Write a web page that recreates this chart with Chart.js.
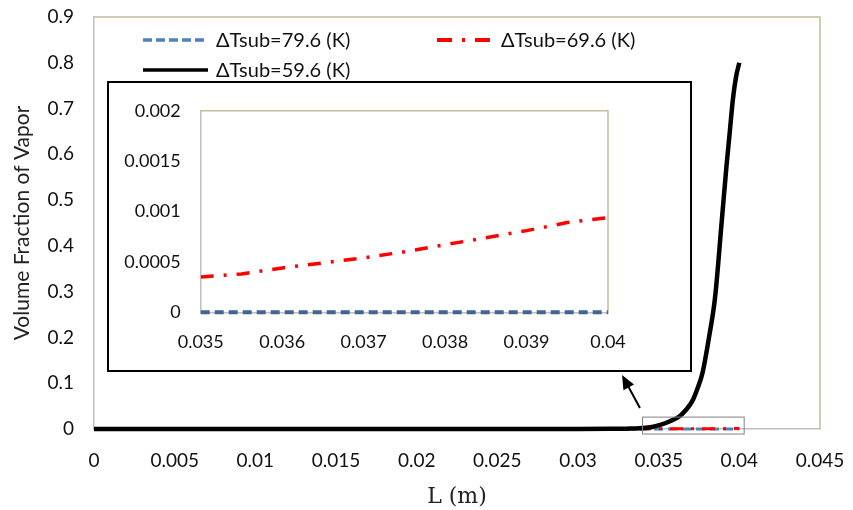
<!DOCTYPE html>
<html>
<head>
<meta charset="utf-8">
<script src="https://cdn.jsdelivr.net/npm/chart.js@4.4.1/dist/chart.umd.min.js"></script>
<style>
  body { margin: 0; background: #fff; }
  #wrap { position: relative; width: 853px; height: 510px; }
  #main { display: block; }
  #inset { position: absolute; left: 107px; top: 81px; width: 585px; height: 291px;
           border: 2px solid #000; box-sizing: border-box; background: #fff; }
  #zoomed { display: block; }
</style>
</head>
<body>
<div id="wrap">
  <canvas id="main" width="853" height="510"></canvas>
  <div id="inset"><canvas id="zoomed" width="581" height="287"></canvas></div>
</div>
<script>
// series names
const seriesNames = ['ΔTsub=79.6 (K)', 'ΔTsub=69.6 (K)', 'ΔTsub=59.6 (K)'];

// full length, dTsub = 59.6 K
const lengthMain = [0, 0.005, 0.01, 0.015, 0.02, 0.025, 0.03, 0.032, 0.033, 0.0338, 0.0345, 0.0351,
  0.0357, 0.0363, 0.0367, 0.0371, 0.0374, 0.0377, 0.0381, 0.0385, 0.0389, 0.0392, 0.0394, 0.0396, 0.0398, 0.04];
const frac59 = [0, 0, 0, 0, 0, 0, 0, 0.0003, 0.0008, 0.0015, 0.004, 0.009,
  0.017, 0.028, 0.042, 0.062, 0.088, 0.12, 0.196, 0.289, 0.45, 0.573, 0.646, 0.72, 0.77, 0.8];

// upstream part of the two lower curves (flat at ~0)
const lengthLow = [0, 0.01, 0.02, 0.03];
const frac69Low = [0, 0, 0.0001, 0.0002];
const frac79Low = [0, 0, 0, 0];

// zoomed part 0.035 - 0.04
const lengthInset = [0.035, 0.0355, 0.036, 0.0365, 0.037, 0.0375, 0.038, 0.0385, 0.039, 0.0395, 0.04];
const frac69 = [0.00035, 0.00038, 0.00044, 0.00049, 0.00054, 0.0006, 0.00067, 0.00074, 0.00081, 0.00089, 0.00094];
const frac79 = [0, 0, 0, 0, 0, 0, 0, 0, 0, 0, 0];

// ticks
const xTicksMain = [0, 0.005, 0.01, 0.015, 0.02, 0.025, 0.03, 0.035, 0.04, 0.045];
const yTicksMain = [0, 0.1, 0.2, 0.3, 0.4, 0.5, 0.6, 0.7, 0.8, 0.9];
const xTicksInset = [0.035, 0.036, 0.037, 0.038, 0.039, 0.04];
const yTicksInset = [0, 0.0005, 0.001, 0.0015, 0.002];

const blue = '#4f81bd', blueDark = '#3f6596', red = '#ff0000', black = '#000000';
const axisGray = '#bfbfbf', frameKhaki = '#c4bd97';

const pts = (xs, ys) => xs.map((x, i) => ({ x: x, y: ys[i] }));
const fmt = v => String(+(+v).toFixed(4));

Chart.defaults.font.family = 'Lato';
Chart.defaults.font.size = 18;
Chart.defaults.color = '#111';

// top and right edges of the plot frame (left/bottom are the gray axes)
const frame = {
  id: 'frame',
  beforeDatasetsDraw(chart) {
    const { ctx, chartArea: a } = chart;
    ctx.save();
    ctx.strokeStyle = frameKhaki;
    ctx.lineWidth = 1.5;
    ctx.beginPath();
    ctx.moveTo(a.left, a.top);
    ctx.lineTo(a.right, a.top);
    ctx.lineTo(a.right, a.bottom);
    ctx.stroke();
    ctx.restore();
  }
};

// fixed axis size, no extra room for overhanging labels
function fixSize(dim, px) {
  return s => {
    s[dim] = px;
    s.paddingTop = 0; s.paddingBottom = 0; s.paddingLeft = 0; s.paddingRight = 0;
  };
}

function scaleOpts(ticks, size) {
  return {
    type: 'linear',
    min: ticks[0],
    max: ticks[ticks.length - 1],
    afterBuildTicks: s => { s.ticks = ticks.map(v => ({ value: v })); },
    grid: { display: false, drawTicks: false },
    border: { display: true, color: axisGray, width: 1.5 },
    ticks: { callback: fmt, padding: 20, color: '#111', font: { size: size } }
  };
}

// legend + arrow + small box on the main chart
const extras = {
  id: 'extras',
  afterDatasetsDraw(chart) {
    const { ctx, scales: { x, y } } = chart;
    ctx.save();
    // box around the zoomed region
    const x0 = x.getPixelForValue(0.034), x1 = x.getPixelForValue(0.0403);
    const y0 = y.getPixelForValue(0.026), y1 = y.getPixelForValue(-0.011);
    ctx.strokeStyle = '#808080';
    ctx.lineWidth = 1;
    ctx.strokeRect(x0, y0, x1 - x0, y1 - y0);

    // arrow pointing at the inset
    const ax = x.getPixelForValue(0.03384), ay = y.getPixelForValue(0.046);
    const bx = x.getPixelForValue(0.03273), by = y.getPixelForValue(0.118);
    const ang = Math.atan2(by - ay, bx - ax);
    ctx.strokeStyle = black;
    ctx.fillStyle = black;
    ctx.lineWidth = 2;
    ctx.beginPath();
    ctx.moveTo(ax, ay);
    ctx.lineTo(bx - 8 * Math.cos(ang), by - 8 * Math.sin(ang));
    ctx.stroke();
    ctx.beginPath();
    ctx.moveTo(bx, by);
    ctx.lineTo(bx - 14 * Math.cos(ang) + 6 * Math.sin(ang), by - 14 * Math.sin(ang) - 6 * Math.cos(ang));
    ctx.lineTo(bx - 14 * Math.cos(ang) - 6 * Math.sin(ang), by - 14 * Math.sin(ang) + 6 * Math.cos(ang));
    ctx.closePath();
    ctx.fill();

    // legend
    const items = [
      { text: seriesNames[0], color: blue, dash: [9, 4], w: 3.5, x: 143, len: 65, y: 40 },
      { text: seriesNames[1], color: red, dash: [15, 10, 3, 10], w: 4, x: 437, len: 56, y: 40 },
      { text: seriesNames[2], color: black, dash: [], w: 3.5, x: 143, len: 65, y: 70 }
    ];
    ctx.font = '20px Lato';
    ctx.textBaseline = 'middle';
    items.forEach(it => {
      ctx.strokeStyle = it.color;
      ctx.lineWidth = it.w;
      ctx.setLineDash(it.dash);
      ctx.beginPath();
      ctx.moveTo(it.x, it.y);
      ctx.lineTo(it.x + it.len, it.y);
      ctx.stroke();
      ctx.setLineDash([]);
      ctx.fillStyle = '#111';
      ctx.fillText(it.text, it.x + it.len + 8, it.y + 1);
    });
    ctx.restore();
  }
};

const mainX = scaleOpts(xTicksMain, 19);
mainX.afterFit = fixSize('height', 81);
mainX.title = { display: true, text: 'L (m)', font: { family: 'DejaVu Serif', size: 22 }, color: '#222', padding: 0 };
const mainY = scaleOpts(yTicksMain, 19);
mainY.afterFit = fixSize('width', 94);
mainY.title = { display: true, text: 'Volume Fraction of Vapor', font: { size: 21 }, color: '#222', padding: { top: 10, bottom: 0 } };

new Chart(document.getElementById('main'), {
  type: 'line',
  data: {
    datasets: [
      { label: seriesNames[2], data: pts(lengthMain, frac59), borderColor: black, borderWidth: 4.5,
        cubicInterpolationMode: 'monotone', order: 1, clip: false },
      { label: seriesNames[1], data: pts(lengthLow.concat(lengthInset), frac69Low.concat(frac69)),
        borderColor: red, borderWidth: 3, borderDash: [13, 8, 3, 8], order: 2, clip: false },
      { label: seriesNames[0], data: pts(lengthLow.concat(lengthInset), frac79Low.concat(frac79)),
        borderColor: blue, borderWidth: 3, borderDash: [9, 5], order: 3, clip: false }
    ]
  },
  options: {
    responsive: false,
    animation: false,
    layout: { autoPadding: false, padding: { top: 17, right: 33, left: 0, bottom: 0 } },
    elements: { point: { radius: 0 } },
    plugins: { legend: { display: false }, tooltip: { enabled: false } },
    scales: { x: mainX, y: mainY }
  },
  plugins: [frame, extras]
});

const insetX = scaleOpts(xTicksInset, 18);
insetX.afterFit = fixSize('height', 57.7);
insetX.ticks.padding = 19;
const insetY = scaleOpts(yTicksInset, 18);
insetY.afterFit = fixSize('width', 91.7);

new Chart(document.getElementById('zoomed'), {
  type: 'line',
  data: {
    datasets: [
      { label: seriesNames[1], data: pts(lengthInset, frac69), borderColor: red, borderWidth: 3.5,
        borderDash: [13, 10, 3, 10], order: 1 },
      { label: seriesNames[0], data: pts(lengthInset, frac79), borderColor: blueDark, borderWidth: 4,
        borderDash: [9, 5], order: 2, clip: false }
    ]
  },
  options: {
    responsive: false,
    animation: false,
    layout: { autoPadding: false, padding: { top: 27.7, right: 82, left: 0, bottom: 0 } },
    elements: { point: { radius: 0 } },
    plugins: { legend: { display: false }, tooltip: { enabled: false } },
    scales: { x: insetX, y: insetY }
  },
  plugins: [frame]
});
</script>
</body>
</html>
